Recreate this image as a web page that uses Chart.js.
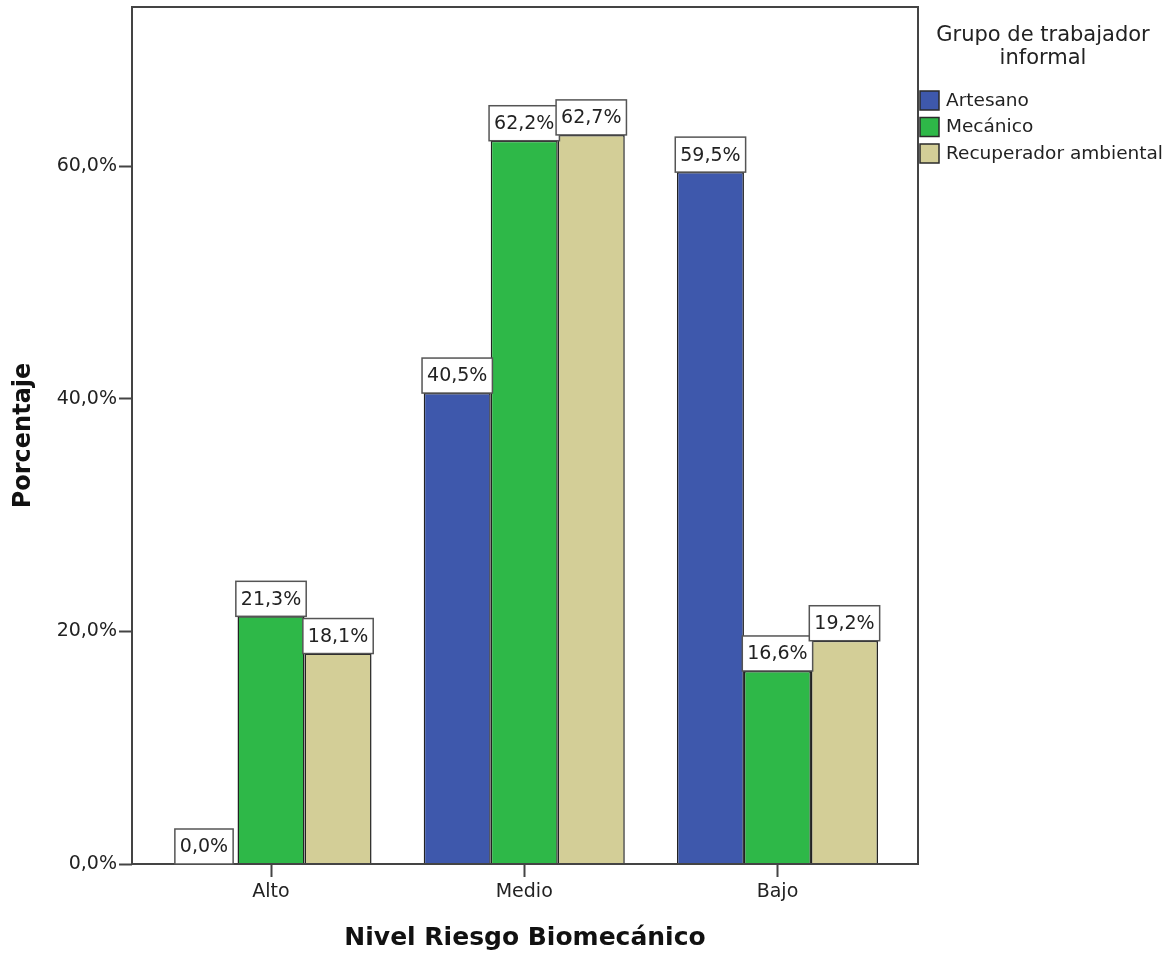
<!DOCTYPE html>
<html lang="es">
<head>
<meta charset="UTF-8">
<title>Nivel Riesgo Biomecánico</title>
<script src="https://cdn.jsdelivr.net/npm/chart.js"></script>
<style>
  html, body { margin: 0; padding: 0; background: #fff; }
</style>
</head>
<body>
<canvas id="chart" width="1170" height="956"></canvas>
<script>
// datos
const categories = ['Alto', 'Medio', 'Bajo'];
const seriesNames = ['Artesano', 'Mecánico', 'Recuperador ambiental'];
const artesano = [0.0, 40.5, 59.5];
const mecanico = [21.3, 62.2, 16.6];
const recuperador = [18.1, 62.7, 19.2];
const yTicks = [0, 20, 40, 60];
const legendTitle = ['Grupo de trabajador', 'informal'];

const colors = ['#3E58AC', '#2EB848', '#D3CE97'];
const FONT = '"DejaVu Sans", sans-serif';

function fmt(v) {
    return v.toFixed(1).replace('.', ',') + '%';
}

// marco completo alrededor del área del gráfico
const framePlugin = {
    id: 'frame',
    afterDatasetsDraw(chart) {
        const { ctx, chartArea: a } = chart;
        ctx.save();
        ctx.strokeStyle = '#444';
        ctx.lineWidth = 2;
        ctx.strokeRect(a.left, a.top, a.right - a.left, a.bottom - a.top);
        ctx.restore();
    }
};

// etiquetas con caja blanca encima de cada barra
const labelPlugin = {
    id: 'boxLabels',
    afterDatasetsDraw(chart) {
        const ctx = chart.ctx;
        ctx.save();
        ctx.font = '19px ' + FONT;
        chart.data.datasets.forEach((ds, di) => {
            chart.getDatasetMeta(di).data.forEach((bar, i) => {
                const txt = fmt(ds.data[i].y);
                const w = ctx.measureText(txt).width + 10;
                const h = 35;
                const x = bar.x - w / 2;
                const y = bar.y - h;
                ctx.fillStyle = '#fff';
                ctx.fillRect(x, y, w, h);
                ctx.strokeStyle = '#555';
                ctx.lineWidth = 1.5;
                ctx.strokeRect(x, y, w, h);
                ctx.fillStyle = '#222';
                ctx.textAlign = 'center';
                ctx.textBaseline = 'middle';
                ctx.fillText(txt, bar.x, y + h / 2 + 1);
            });
        });
        ctx.restore();
    }
};

// leyenda a la derecha, con título en dos líneas
const legendPlugin = {
    id: 'sideLegend',
    afterDraw(chart) {
        const ctx = chart.ctx;
        ctx.save();
        ctx.fillStyle = '#222';
        ctx.textAlign = 'center';
        ctx.textBaseline = 'middle';
        ctx.font = '21px ' + FONT;
        legendTitle.forEach((t, i) => ctx.fillText(t, 1043, 36 + i * 23));
        ctx.font = '18.5px ' + FONT;
        ctx.textAlign = 'left';
        seriesNames.forEach((name, i) => {
            const y = 91 + i * 26.5;
            ctx.fillStyle = colors[i];
            ctx.fillRect(920, y, 19, 19);
            ctx.strokeStyle = '#2a2a2a';
            ctx.lineWidth = 1.5;
            ctx.strokeRect(920, y, 19, 19);
            ctx.fillStyle = '#222';
            ctx.fillText(name, 946, y + 10);
        });
        ctx.restore();
    }
};

const seriesData = [artesano, mecanico, recuperador];

new Chart(document.getElementById('chart'), {
    type: 'bar',
    data: {
        datasets: seriesNames.map((name, s) => ({
            label: name,
            data: seriesData[s].map((v, i) => ({ x: i, y: v })),
            backgroundColor: colors[s],
            borderColor: '#222',
            borderWidth: 1.5,
            categoryPercentage: 0.794,
            barPercentage: 1.0
        }))
    },
    options: {
        responsive: false,
        animation: false,
        devicePixelRatio: 1,
        layout: { padding: { top: 7, right: 252, left: 0, bottom: 0 } },
        plugins: {
            legend: { display: false },
            tooltip: { enabled: false }
        },
        scales: {
            x: {
                type: 'linear',
                min: -0.549,
                max: 2.555,
                offset: false,
                grid: {
                    display: true, drawOnChartArea: false, offset: false,
                    tickLength: 13, tickColor: '#444', tickWidth: 2
                },
                border: { display: false },
                afterBuildTicks: s => { s.ticks = categories.map((c, i) => ({ value: i })); },
                afterFit: s => { s.height = 92; s.paddingLeft = 0; s.paddingRight = 0; },
                ticks: {
                    autoSkip: false, maxRotation: 0, padding: 4,
                    color: '#222', font: { family: FONT, size: 19 },
                    callback: v => categories[v]
                },
                title: {
                    display: true, text: 'Nivel Riesgo Biomecánico', color: '#111',
                    font: { family: FONT, size: 25, weight: 'bold' },
                    padding: { top: 0, bottom: 3 }
                }
            },
            y: {
                min: 0,
                max: 73.7,
                grid: {
                    display: true, drawOnChartArea: false,
                    tickLength: 13, tickColor: '#444', tickWidth: 2
                },
                border: { display: false },
                afterBuildTicks: s => { s.ticks = yTicks.map(v => ({ value: v })); },
                afterFit: s => { s.width = 132; s.paddingTop = 0; s.paddingBottom = 0; },
                ticks: {
                    padding: 2, color: '#222',
                    font: { family: FONT, size: 19 },
                    callback: v => fmt(v)
                },
                title: {
                    display: true, text: 'Porcentaje', color: '#111',
                    font: { family: FONT, size: 24, weight: 'bold' },
                    padding: { top: 9, bottom: 0 }
                }
            }
        }
    },
    plugins: [framePlugin, labelPlugin, legendPlugin]
});
</script>
</body>
</html>
